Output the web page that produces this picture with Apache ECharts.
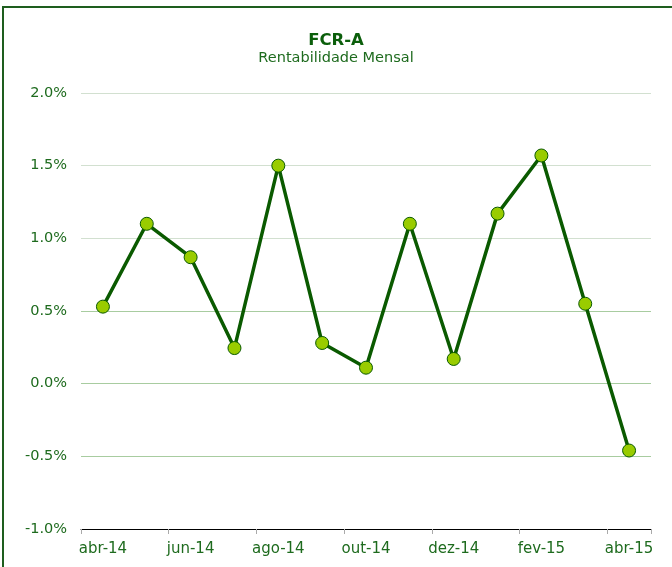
<!DOCTYPE html>
<html>
<head>
<meta charset="utf-8">
<script src="https://cdn.jsdelivr.net/npm/echarts@6/dist/echarts.min.js"></script>
<style>
html,body{margin:0;padding:0;background:#fff;}
#c{width:672px;height:567px;}
</style>
</head>
<body>
<div id="c"></div>
<script>
const categories = ['abr-14','mai-14','jun-14','jul-14','ago-14','set-14','out-14','nov-14','dez-14','jan-15','fev-15','mar-15','abr-15'];
const values = [0.53, 1.10, 0.87, 0.245, 1.50, 0.28, 0.11, 1.10, 0.17, 1.17, 1.57, 0.55, -0.46];
const yMin = -1.0, yMax = 2.0, yStep = 0.5;
const titleText = 'FCR-A';
const subtitleText = 'Rentabilidade Mensal';

const chart = echarts.init(document.getElementById('c'), null, {renderer: 'canvas'});
const font = 'DejaVu Sans, Verdana, sans-serif';
chart.setOption({
  animation: false,
  backgroundColor: '#fff',
  graphic: [{
    type: 'rect', silent: true, z: 100,
    shape: {x: 3, y: 7, width: 700, height: 600},
    style: {fill: 'none', stroke: '#1e5e1e', lineWidth: 2}
  }],
  title: {
    text: titleText, subtext: subtitleText, left: 'center', top: 27, itemGap: 2,
    textStyle: {fontFamily: font, fontSize: 16.5, fontWeight: 'bold', color: '#0b5e0b'},
    subtextStyle: {fontFamily: font, fontSize: 14.5, color: '#1e6b1e'}
  },
  grid: {left: 81, right: 21, top: 93, bottom: 38, containLabel: false},
  xAxis: {
    type: 'category', data: categories, boundaryGap: true,
    axisLine: {onZero: false, lineStyle: {color: '#000', width: 1}},
    axisTick: {show: true, interval: 1, length: 5, lineStyle: {color: '#aaa'}},
    axisLabel: {interval: 1, fontFamily: font, fontSize: 15, color: '#1e6b1e', margin: 13},
    splitLine: {show: false}
  },
  yAxis: {
    type: 'value', min: yMin, max: yMax, interval: yStep,
    axisLine: {show: false}, axisTick: {show: false},
    axisLabel: {fontFamily: font, fontSize: 14.5, color: '#1e6b1e', margin: 14,
      formatter: v => v.toFixed(1) + '%'},
    splitLine: {lineStyle: {color: ['#a8cca0','#a8cca0','#a8cca0','#a8cca0','#d2e0d0','#d2e0d0','#d2e0d0'], width: 1}}
  },
  series: [{
    type: 'line', data: values,
    symbol: 'circle', symbolSize: 13,
    lineStyle: {color: '#0a5a00', width: 3.5},
    itemStyle: {color: '#99cc00', borderColor: '#0a5a00', borderWidth: 1}
  }]
});
</script>
</body>
</html>
